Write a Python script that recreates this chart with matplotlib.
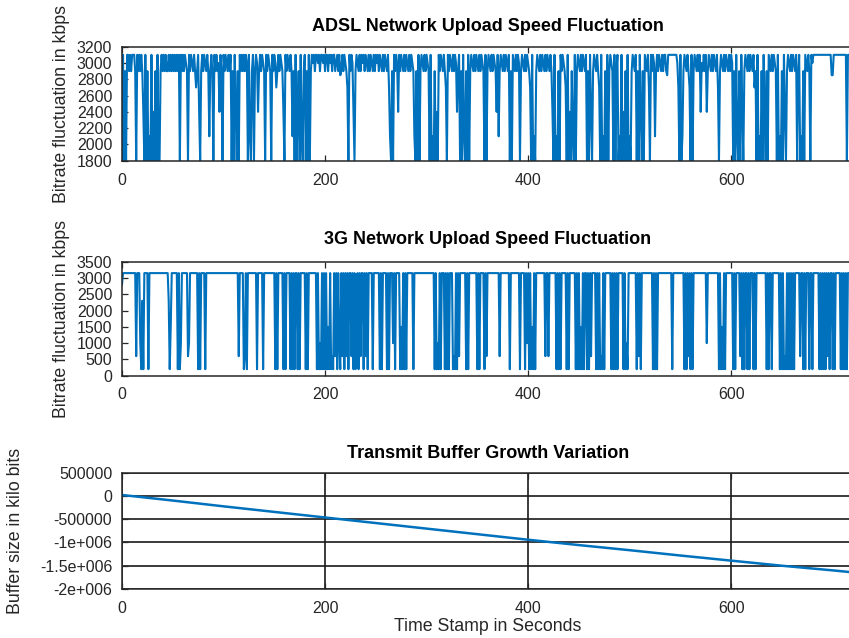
import numpy as np
import matplotlib
matplotlib.use("Agg")
from matplotlib import pyplot as plt

# one character = one second of the trace, level codes
ADSL_LEVELS = {"T": 3100, "a": 3000, "s": 2900, "S": 2850, "k": 2700,
               "m": 2400, "d": 2100, "L": 1800}
adsl_rows = [
    "LTLsLTTsTs" "TTTsLTsTsT" "smLTLsLdLT" "LmLsLTLLsT" "sTsTssTsTs" "TsTsTsTLTs",
    "TsTasLTsTa" "sTsksTmLsT" "sTasTsdsTs" "LTsTsamTsL" "TsTasTsTLs" "LTmLsLTsTs",
    "TsTaLTdLsT" "LsTamsTsTa" "sLTsTasLTs" "TaksTsTasm" "LTsTasTsds" "LTLmsLTdLs",
    "TLsLTLsTaT" "sTTaTsTTaT" "sTTsTaTsTT" "saTsTSsTsT" "askLTsTamL" "sTasTsTaTs",
    "TasTsTasTs" "TaTsTasTsT" "asTkdLsLTs" "TamTsTasTs" "TasTsTasdL" "sLTLsTasTs",
    "TasLTLdLsL" "mLTsTasTsk" "LTsTasTsTa" "msTLsLTdLs" "LTLsTasTsT" "asTsTasLTL",
    "sTasTsTasm" "TdsTasTsTa" "sTLsLTasTs" "TaLsTasTsT" "askLTLdLsT" "asTsTasTsT",
    "asTsmLTLdL" "sLTsTaskLT" "LmLsdLTLsT" "asTsTasTLs" "LTmLsTasTs" "kLTLdLsLTL",
    "sTasLTLsTL" "dLTLmLsLTL" "dLsTasTLsL" "TmLsLTasTk" "LTsTadsTsT" "asTsTTsSTT",
    "TTTTTTTakL" "TLdsTasTsk" "LTLsTasTsT" "masTsTmsTa" "sTsTasTkLs" "TasTsTasTs",
    "TaLsLTdLsL" "TmLsTasTsT" "asTksLTLdL" "sLTmLsLTas" "TsTasLTLdL" "sLTmLsTasT",
    "sTasTLsTLd" "LsLTasTsLT" "aTTTTTTTTT" "TTTTTTTTTS" "STTTTTTTTT" "TTTTLTTTTT",
]

G3_LEVELS = {"T": 3150, "n": 2800, "k": 2300, "h": 1500, "m": 1000,
             "l": 600, "L": 200}
g3_rows = [
    "nTTTTTTTTT" "TTTTlTTTmL" "kLTTTTLTTT" "TTTTTTTTTT" "TTTTTTkLhT" "TTTTTLTLmT",
    "TTTTTlmTTT" "TTTTTLTLTT" "TTLTTTTTTT" "TTTTTTTTTT" "TTTTTTTTTT" "TTTTTlTTTT",
    "LlTLTTTTTT" "TTTLTTTTTL" "TTTTTTTTTT" "TLTLTTTTTL" "TLTTTTLTLT" "LTTLTLTTTT",
    "TLTLTTTTTT" "TTLTLmLTLT" "LTLhLTLlLT" "lTLTmLTlTL" "TlTLTTlTLT" "LlTLTlTTLT",
    "lTLTTTTLTT" "TTTTLTLTTT" "TLTLTTTmTL" "TTTTLhLTLT" "LTTTTTTLTT" "TTTTTTTTTT",
    "TTTTTTTTLT" "LmLTLTTTLT" "LTLTTTLlLT" "LTlTTTTTTL" "TLTTTTTTTT" "LTLTTTTLTl",
    "TTTTTTTTTT" "TTlTTTTTTT" "TTLTTTTTTT" "TTLTTTTLTm" "TLTLhLTLTT" "TTTTTTTlTT",
    "lTTTTTTTLT" "LTLTTTTTLT" "LTTTTTTLTL" "TLhLTLTTLT" "LTlTTTTLTL" "TLlLTLTTTT",
    "TTLTLTLTLT" "TTTTLTLmLT" "TTTTTTTLTl" "TLTTTTTTTT" "TTTLTLTLTT" "TTTTTTTTTT",
    "TTLTTTTTTT" "TTTTLTLTlT" "LTLTTTTTTT" "TTTTTTmTTT" "TTTTTTTTLT" "LhLTLTTTTT",
    "TTLTLTTTTl" "TLTLTTLTLT" "TTLTLTTTTT" "TTTTTLTLTT" "LTTTTTTTLT" "LTLlLTLTLT",
    "LTLTTTTTlT" "TLTLTTTLTT" "LTTTTTTLTL" "TLTLTlTLTT" "LTLTTTTTLT" "LTLTLTTTTT",
]

buffer_t = [0, 50, 100, 150, 200, 250, 300, 350, 400, 450, 500, 550, 600, 650, 700, 721]
buffer_kbits = [20000, -100000, -225000, -345000, -465000, -585000, -705000, -825000,
                -945000, -1060000, -1170000, -1285000, -1395000, -1505000, -1605000, -1650000]

adsl_ticks = [1800, 2000, 2200, 2400, 2600, 2800, 3000, 3200]
g3_ticks = [0, 500, 1000, 1500, 2000, 2500, 3000, 3500]
buf_ticks = [-2000000, -1500000, -1000000, -500000, 0, 500000]
buf_tick_labels = ["-2e+006", "-1.5e+006", "-1e+006", "-500000", "0", "500000"]
time_ticks = [0, 200, 400, 600]

for row in adsl_rows + g3_rows:
    assert len(row) == 60, (len(row), row)

adsl = np.array([ADSL_LEVELS[c] for c in "".join(adsl_rows)])
g3 = np.array([G3_LEVELS[c] for c in "".join(g3_rows)])

plt.rc("font", family=["Liberation Sans", "DejaVu Sans"])
FS = 11.5
LFS = 12.8
TFS = 13
LINE = "#0072BD"
EDGE = "#262626"

W, H = 849, 638
fig = plt.figure(figsize=(W / 100, H / 100), dpi=100)


def px_axes(left, top, right, bottom):
    return fig.add_axes([left / W, 1 - bottom / H, (right - left) / W, (bottom - top) / H])


def style(ax, xpad=9):
    ax.set_xlim(0, 721)
    ax.set_xticks(time_ticks)
    ax.tick_params(direction="in", length=4, width=0.9, top=True, right=False,
                   labelsize=FS, colors=EDGE)
    ax.tick_params(axis="x", pad=xpad)
    ax.tick_params(axis="y", pad=7)
    for name, sp in ax.spines.items():
        sp.set_color(EDGE)
        sp.set_linewidth(1.1)
    ax.spines["right"].set_visible(False)


ax1 = px_axes(122, 46.7, 854, 160.7)
ax1.plot(np.arange(len(adsl)), adsl, color=LINE, lw=1.5)
ax1.set_ylim(1800, 3200)
ax1.set_yticks(adsl_ticks)
style(ax1)
ax1.set_title("ADSL Network Upload Speed Fluctuation", fontsize=TFS, fontweight="bold", pad=11)
ax1.set_ylabel("Bitrate fluctuation in kbps", fontsize=LFS, color=EDGE)
ax1.yaxis.set_label_coords(-0.071, 0.5)

ax2 = px_axes(122, 261.7, 854, 375.7)
ax2.plot(np.arange(len(g3)), g3, color=LINE, lw=1.5)
ax2.set_ylim(0, 3500)
ax2.set_yticks(g3_ticks)
style(ax2, xpad=8)
ax2.set_title("3G Network Upload Speed Fluctuation", fontsize=TFS, fontweight="bold", pad=12.5)
ax2.set_ylabel("Bitrate fluctuation in kbps", fontsize=LFS, color=EDGE)
ax2.yaxis.set_label_coords(-0.071, 0.5)

ax3 = px_axes(122, 472.7, 854, 588.7)
ax3.plot(buffer_t, buffer_kbits, color=LINE, lw=1.8)
ax3.set_ylim(-2000000, 500000)
ax3.set_yticks(buf_ticks)
ax3.set_yticklabels(buf_tick_labels)
style(ax3, xpad=9)
ax3.grid(True, color="#1a1a1a", linewidth=1.2)
ax3.set_axisbelow(True)
ax3.set_title("Transmit Buffer Growth Variation", fontsize=TFS, fontweight="bold", pad=10.5)
ax3.set_ylabel("Buffer size in kilo bits", fontsize=LFS, color=EDGE)
ax3.yaxis.set_label_coords(-0.134, 0.5)
ax3.set_xlabel("Time Stamp in Seconds", fontsize=LFS, color=EDGE, labelpad=1)

fig.savefig("out.png", dpi=100)
